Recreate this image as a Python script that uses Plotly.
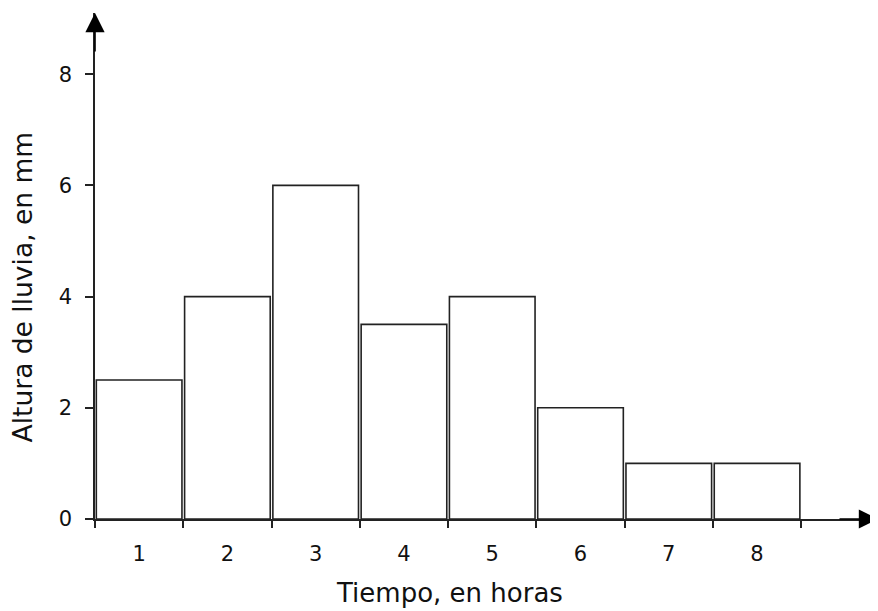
import plotly.graph_objects as go

hours = [1, 2, 3, 4, 5, 6, 7, 8]
rain_mm = [2.5, 4, 6, 3.5, 4, 2, 1, 1]
y_ticks = [0, 2, 4, 6, 8]
x_title = "Tiempo, en horas"
y_title = "Altura de lluvia, en mm"

centers = [h - 0.5 for h in hours]
FONT = "DejaVu Sans"
LINE = "#222222"
TXT = "#111111"

fig = go.Figure()
fig.add_trace(go.Bar(
    x=centers, y=rain_mm, width=0.97,
    marker=dict(color="white", line=dict(color=LINE, width=1.6)),
    hoverinfo="skip",
))

fig.update_layout(
    width=870, height=603,
    margin=dict(l=87, r=0, t=5, b=92, autoexpand=False),
    paper_bgcolor="white", plot_bgcolor="white",
    showlegend=False,
    font=dict(family=FONT, size=21, color=TXT),
    xaxis=dict(
        range=[0, 8.87], tickvals=centers, ticktext=[str(h) for h in hours],
        ticks="", ticklabelstandoff=15, showgrid=False, zeroline=False,
        showline=True, linecolor=LINE, linewidth=1.6, automargin=False,
        tickfont=dict(family=FONT, size=21, color=TXT),
        minor=dict(tickvals=[0] + hours, ticks="outside", ticklen=7,
                   tickcolor=LINE, tickwidth=1.6, showgrid=False),
    ),
    yaxis=dict(
        range=[0, 9.1], tickvals=y_ticks, ticks="outside", ticklen=8,
        tickcolor=LINE, tickwidth=1.6, ticklabelstandoff=9,
        tickfont=dict(family=FONT, size=21, color=TXT),
        showgrid=False, zeroline=False, automargin=False,
        showline=True, linecolor=LINE, linewidth=1.6,
    ),
)

# Axis arrows
fig.add_annotation(x=0, y=9.1, xref="x", yref="y", ax=0, ay=40,
                   showarrow=True, arrowhead=2, arrowsize=2.4, arrowwidth=1.6, arrowcolor="black", text="")
fig.add_annotation(x=8.87, y=0, xref="x", yref="y", ax=-40, ay=0,
                   showarrow=True, arrowhead=2, arrowsize=2.4, arrowwidth=1.6, arrowcolor="black", text="")

fig.add_annotation(text=x_title, xref="paper", yref="paper", x=0.453, y=-0.147,
                   xanchor="center", yanchor="middle", showarrow=False,
                   font=dict(family=FONT, size=26, color=TXT))
fig.add_annotation(text=y_title, xref="paper", yref="paper", x=-0.093, y=0.458,
                   xanchor="center", yanchor="middle", showarrow=False, textangle=-90,
                   font=dict(family=FONT, size=26.5, color=TXT))

fig.write_html("out.html")
